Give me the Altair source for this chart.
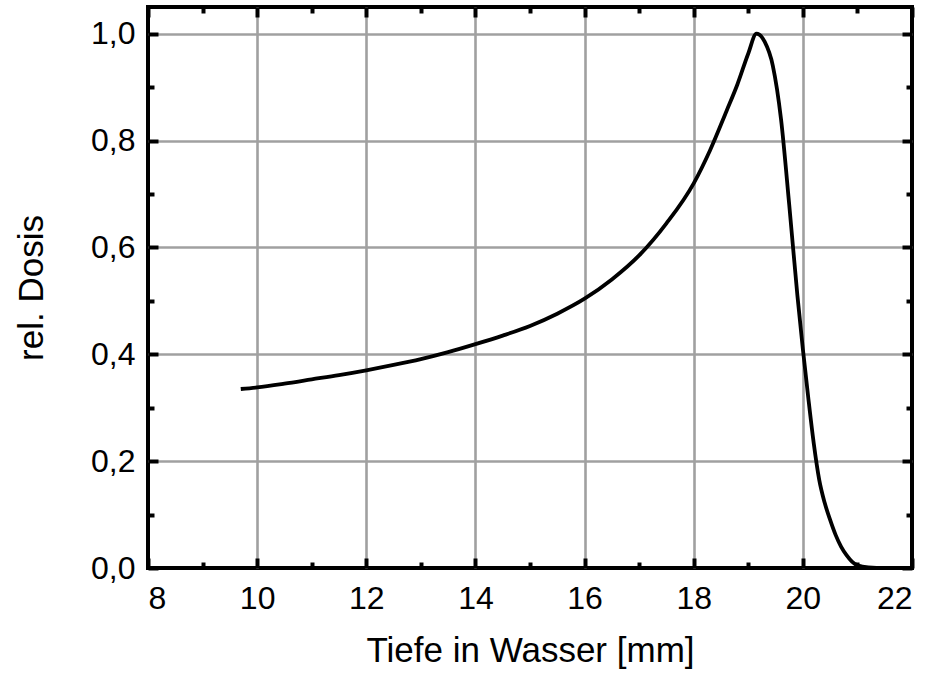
import altair as alt
import pandas as pd

# Depth-dose curve (Bragg peak)
depth = [9.70, 10.0, 10.5, 11.0, 11.5, 12.0, 12.5, 13.0, 13.5, 14.0, 14.5, 15.0,
         15.5, 16.0, 16.5, 17.0, 17.5, 18.0, 18.3, 18.6, 18.8, 19.0, 19.15,
         19.3, 19.45, 19.6, 19.75, 19.9, 20.0, 20.1, 20.2, 20.3, 20.4, 20.5,
         20.6, 20.7, 20.8, 20.9, 21.0, 21.2, 21.5, 21.9]
dose = [0.335, 0.338, 0.345, 0.353, 0.361, 0.370, 0.380, 0.391, 0.404, 0.419, 0.435, 0.453,
        0.476, 0.504, 0.540, 0.585, 0.645, 0.720, 0.782, 0.855, 0.905, 0.963, 1.000,
        0.985, 0.940, 0.840, 0.680, 0.510, 0.410, 0.318, 0.233, 0.165, 0.122, 0.090,
        0.062, 0.040, 0.024, 0.012, 0.005, 0.001, 0.0, 0.0]

x_major = [8, 10, 12, 14, 16, 18, 20, 22]
x_minor = [9, 11, 13, 15, 17, 19, 21]
x_grid = [10, 12, 14, 16, 18, 20]
y_major = [0.0, 0.2, 0.4, 0.6, 0.8, 1.0]
y_minor = [0.1, 0.3, 0.5, 0.7, 0.9]
y_grid = [0.2, 0.4, 0.6, 0.8, 1.0]

x_title = "Tiefe in Wasser [mm]"
y_title = "rel. Dosis"

df = pd.DataFrame({"depth": depth, "dose": dose})

FONT = "Liberation Sans"
xs = alt.Scale(domain=[8, 22], nice=False, zero=False)
ys = alt.Scale(domain=[0, 1.05], nice=False, zero=False)


def tick_axis(orient, values, size):
    return alt.Axis(orient=orient, values=values, labels=False, domain=False,
                    grid=False, title=None, ticks=True, tickSize=size, tickWidth=4,
                    tickColor="black", tickOpacity=1, offset=-size, zindex=2)


def grid_axis(orient, values):
    return alt.Axis(orient=orient, values=values, labels=False, domain=False,
                    ticks=False, grid=True, gridColor="#a0a0a0", gridWidth=2.6,
                    gridOpacity=1, title=None, zindex=0)


def layer(xaxis, yaxis, visible=False):
    return alt.Chart(df).mark_line(
        color="black", strokeWidth=3.8, interpolate="monotone",
        opacity=1 if visible else 0,
    ).encode(
        x=alt.X("depth:Q", scale=xs, axis=xaxis),
        y=alt.Y("dose:Q", scale=ys, axis=yaxis),
    )


grid_layer = layer(grid_axis("bottom", x_grid), grid_axis("left", y_grid))

label_layer = layer(
    alt.Axis(orient="bottom", values=x_major, grid=False, ticks=False, domain=False,
             labelFont=FONT, labelFontSize=32, labelColor="black", labelPadding=15,
             labelExpr="format(datum.value, 'd')",
             title=x_title, titleFont=FONT, titleFontSize=35, titleFontWeight="normal",
             titleColor="black", titlePadding=19, zindex=1),
    alt.Axis(orient="left", values=y_major, grid=False, ticks=False, domain=False,
             labelFont=FONT, labelFontSize=32, labelColor="black", labelPadding=13,
             labelExpr="replace(format(datum.value, '.1f'), '.', ',')",
             title=y_title, titleFont=FONT, titleFontSize=35, titleFontWeight="normal",
             titleColor="black", titlePadding=41, zindex=1),
    visible=True,
)

major_bl = layer(tick_axis("bottom", x_major, 10), tick_axis("left", y_major, 10))
minor_bl = layer(tick_axis("bottom", x_minor, 6), tick_axis("left", y_minor, 6))
major_tr = layer(tick_axis("top", x_major, 10), tick_axis("right", y_major, 10))
minor_tr = layer(tick_axis("top", x_minor, 6), tick_axis("right", y_minor, 6))

chart = alt.layer(
    grid_layer, label_layer, major_bl, minor_bl, major_tr, minor_tr
).resolve_axis(
    x="independent", y="independent"
).properties(
    width=764, height=561,
    autosize=alt.AutoSizeParams(type="none"),
    padding={"left": 148, "top": 7, "right": 25, "bottom": 105},
    background="white",
).configure_view(
    stroke="black", strokeWidth=4
)

chart.save("out.html", embed_options={"renderer": "svg", "actions": False})
